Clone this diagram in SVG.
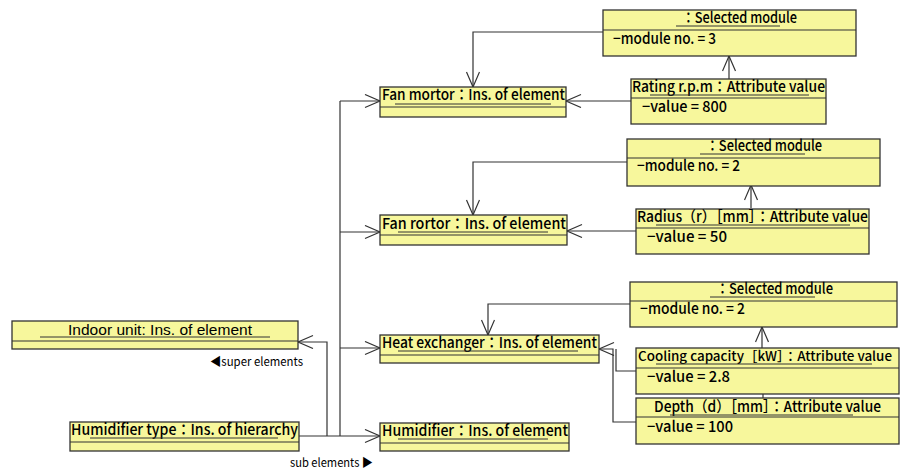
<svg xmlns="http://www.w3.org/2000/svg" width="900" height="471" viewBox="0 0 900 471">
<defs>
<marker id="open" markerUnits="userSpaceOnUse" markerWidth="20" markerHeight="16" refX="16" refY="7" orient="auto">
<path d="M1,0.5 L16,7 L1,13.5" fill="none" stroke="#333" stroke-width="1.2"/>
</marker>
<style>
.box{fill:#f7f79c;stroke:#333;stroke-width:1.3}
.div{stroke:#333;stroke-width:1.2}
.ul{stroke:#333;stroke-width:1}
.t{font-family:'Noto Sans CJK JP','DejaVu Sans',sans-serif;font-size:15px;font-weight:500;fill:#000}
.tn{font-family:'Noto Sans CJK JP','DejaVu Sans',sans-serif;font-size:13px;font-weight:500;fill:#000}
.a{font-family:'Liberation Sans',Arial,sans-serif;font-size:15px;fill:#000}
.s{font-family:'Noto Sans CJK JP','DejaVu Sans',sans-serif;font-size:12px;fill:#000}
.c{fill:none;stroke:#333;stroke-width:1.2}
.cm{fill:none;stroke:#333;stroke-width:1.2;marker-end:url(#open)}
</style>
</defs>
<rect width="900" height="471" fill="#fff"/>
<g id="connectors">
<path class="c" d="M299,436 H340" stroke-width="2"/>
<path class="c" d="M340,436 V101"/>
<path class="cm" d="M340,436 H380"/>
<path class="cm" d="M340,101 H380"/>
<path class="cm" d="M340,232 H380"/>
<path class="cm" d="M340,348 H380"/>
<path class="cm" d="M327,436 V342 H298"/>
<path class="cm" d="M603,32 H473 V87"/>
<path class="cm" d="M729,79 V56"/>
<path class="cm" d="M631,101 H566"/>
<path class="cm" d="M627,162 H473 V215"/>
<path class="cm" d="M751,208 V185"/>
<path class="cm" d="M636,231 H567"/>
<path class="cm" d="M630,304 H488 V335"/>
<path class="cm" d="M762,348 V327"/>
<path class="c" d="M763,398 V394"/>
<path class="c" d="M636,371 H616 V349"/>
<path class="cm" d="M636,422 H613 V349 H599"/>
</g>
<g id="sel1">
<rect class="box" x="603" y="10" width="253" height="46"/>
<line class="div" x1="603" y1="30" x2="856" y2="30"/>
<text class="t" x="682" y="23" textLength="115" lengthAdjust="spacingAndGlyphs">：Selected module</text>
<line class="ul" x1="676" y1="26" x2="780" y2="26"/>
<text class="t" x="613" y="44" textLength="103" lengthAdjust="spacingAndGlyphs">−module no. = 3</text>
</g>
<g id="fanmortor">
<rect class="box" x="380" y="87" width="186" height="30"/>
<line class="div" x1="380" y1="107" x2="566" y2="107"/>
<text class="t" x="382" y="100" textLength="183" lengthAdjust="spacingAndGlyphs">Fan mortor：Ins. of element</text>
<line class="ul" x1="395" y1="104" x2="551" y2="104"/>
</g>
<g id="rating">
<rect class="box" x="631" y="79" width="195" height="45"/>
<line class="div" x1="631" y1="98" x2="826" y2="98"/>
<text class="t" x="632" y="92" textLength="193" lengthAdjust="spacingAndGlyphs">Rating r.p.m：Attribute value</text>
<line class="ul" x1="650" y1="95" x2="809" y2="95"/>
<text class="t" x="642" y="112" textLength="85" lengthAdjust="spacingAndGlyphs">−value = 800</text>
</g>
<g id="sel2">
<rect class="box" x="627" y="139" width="253" height="47"/>
<line class="div" x1="627" y1="158" x2="880" y2="158"/>
<text class="t" x="706" y="151" textLength="116" lengthAdjust="spacingAndGlyphs">：Selected module</text>
<line class="ul" x1="700" y1="154" x2="805" y2="154"/>
<text class="t" x="637" y="171" textLength="103" lengthAdjust="spacingAndGlyphs">−module no. = 2</text>
</g>
<g id="fanrortor">
<rect class="box" x="380" y="215" width="187" height="30"/>
<line class="div" x1="380" y1="235" x2="567" y2="235"/>
<text class="t" x="382" y="229" textLength="184" lengthAdjust="spacingAndGlyphs">Fan rortor：Ins. of element</text>
<line class="ul" x1="398" y1="232" x2="548" y2="232"/>
</g>
<g id="radius">
<rect class="box" x="636" y="209" width="233" height="45"/>
<line class="div" x1="636" y1="228" x2="869" y2="228"/>
<text class="t" x="637" y="222" textLength="231" lengthAdjust="spacingAndGlyphs">Radius（r）［mm］：Attribute value</text>
<line class="ul" x1="656" y1="225" x2="850" y2="225"/>
<text class="t" x="647" y="242" textLength="80" lengthAdjust="spacingAndGlyphs">−value = 50</text>
</g>
<g id="sel3">
<rect class="box" x="630" y="282" width="267" height="45"/>
<line class="div" x1="630" y1="301" x2="897" y2="301"/>
<text class="t" x="716" y="294" textLength="117" lengthAdjust="spacingAndGlyphs">：Selected module</text>
<line class="ul" x1="710" y1="297" x2="815" y2="297"/>
<text class="t" x="640" y="314" textLength="105" lengthAdjust="spacingAndGlyphs">−module no. = 2</text>
</g>
<g id="heatex">
<rect class="box" x="380" y="335" width="219" height="28"/>
<line class="div" x1="380" y1="355" x2="599" y2="355"/>
<text class="t" x="382" y="348" textLength="215" lengthAdjust="spacingAndGlyphs">Heat exchanger：Ins. of element</text>
<line class="ul" x1="398" y1="351" x2="578" y2="351"/>
</g>
<g id="cooling">
<rect class="box" x="636" y="348" width="263" height="46"/>
<line class="div" x1="636" y1="368" x2="899" y2="368"/>
<text class="tn" x="638" y="361" textLength="254" lengthAdjust="spacingAndGlyphs">Cooling capacity［kW］：Attribute value</text>
<line class="ul" x1="656" y1="364" x2="872" y2="364"/>
<text class="t" x="647" y="382" textLength="83" lengthAdjust="spacingAndGlyphs">−value = 2.8</text>
</g>
<g id="depth">
<rect class="box" x="636" y="398" width="263" height="46"/>
<line class="div" x1="636" y1="417" x2="899" y2="417"/>
<text class="t" x="654" y="412" textLength="227" lengthAdjust="spacingAndGlyphs">Depth（d）［mm］：Attribute value</text>
<line class="ul" x1="670" y1="415" x2="853" y2="415"/>
<text class="t" x="647" y="432" textLength="86" lengthAdjust="spacingAndGlyphs">−value = 100</text>
</g>
<g id="humidifier">
<rect class="box" x="380" y="423" width="189" height="28"/>
<line class="div" x1="380" y1="443" x2="569" y2="443"/>
<text class="t" x="382" y="436" textLength="186" lengthAdjust="spacingAndGlyphs">Humidifier：Ins. of element</text>
<line class="ul" x1="398" y1="439" x2="548" y2="439"/>
</g>
<g id="indoor">
<rect class="box" x="12" y="321" width="286" height="28"/>
<line class="div" x1="12" y1="341" x2="298" y2="341"/>
<text class="a" x="68" y="335" textLength="184" lengthAdjust="spacingAndGlyphs">Indoor unit: Ins. of element</text>
<line class="ul" x1="40" y1="337" x2="270" y2="337"/>
</g>
<g id="humtype">
<rect class="box" x="70" y="422" width="229" height="29"/>
<line class="div" x1="70" y1="442" x2="299" y2="442"/>
<text class="t" x="71" y="435" textLength="227" lengthAdjust="spacingAndGlyphs">Humidifier type：Ins. of hierarchy</text>
<line class="ul" x1="90" y1="438" x2="278" y2="438"/>
</g>
<g id="labels">
<text class="s" x="210" y="366" textLength="93" lengthAdjust="spacingAndGlyphs">◀super elements</text>
<text class="s" x="290" y="467" textLength="83" lengthAdjust="spacingAndGlyphs">sub elements ▶</text>
</g>
</svg>
